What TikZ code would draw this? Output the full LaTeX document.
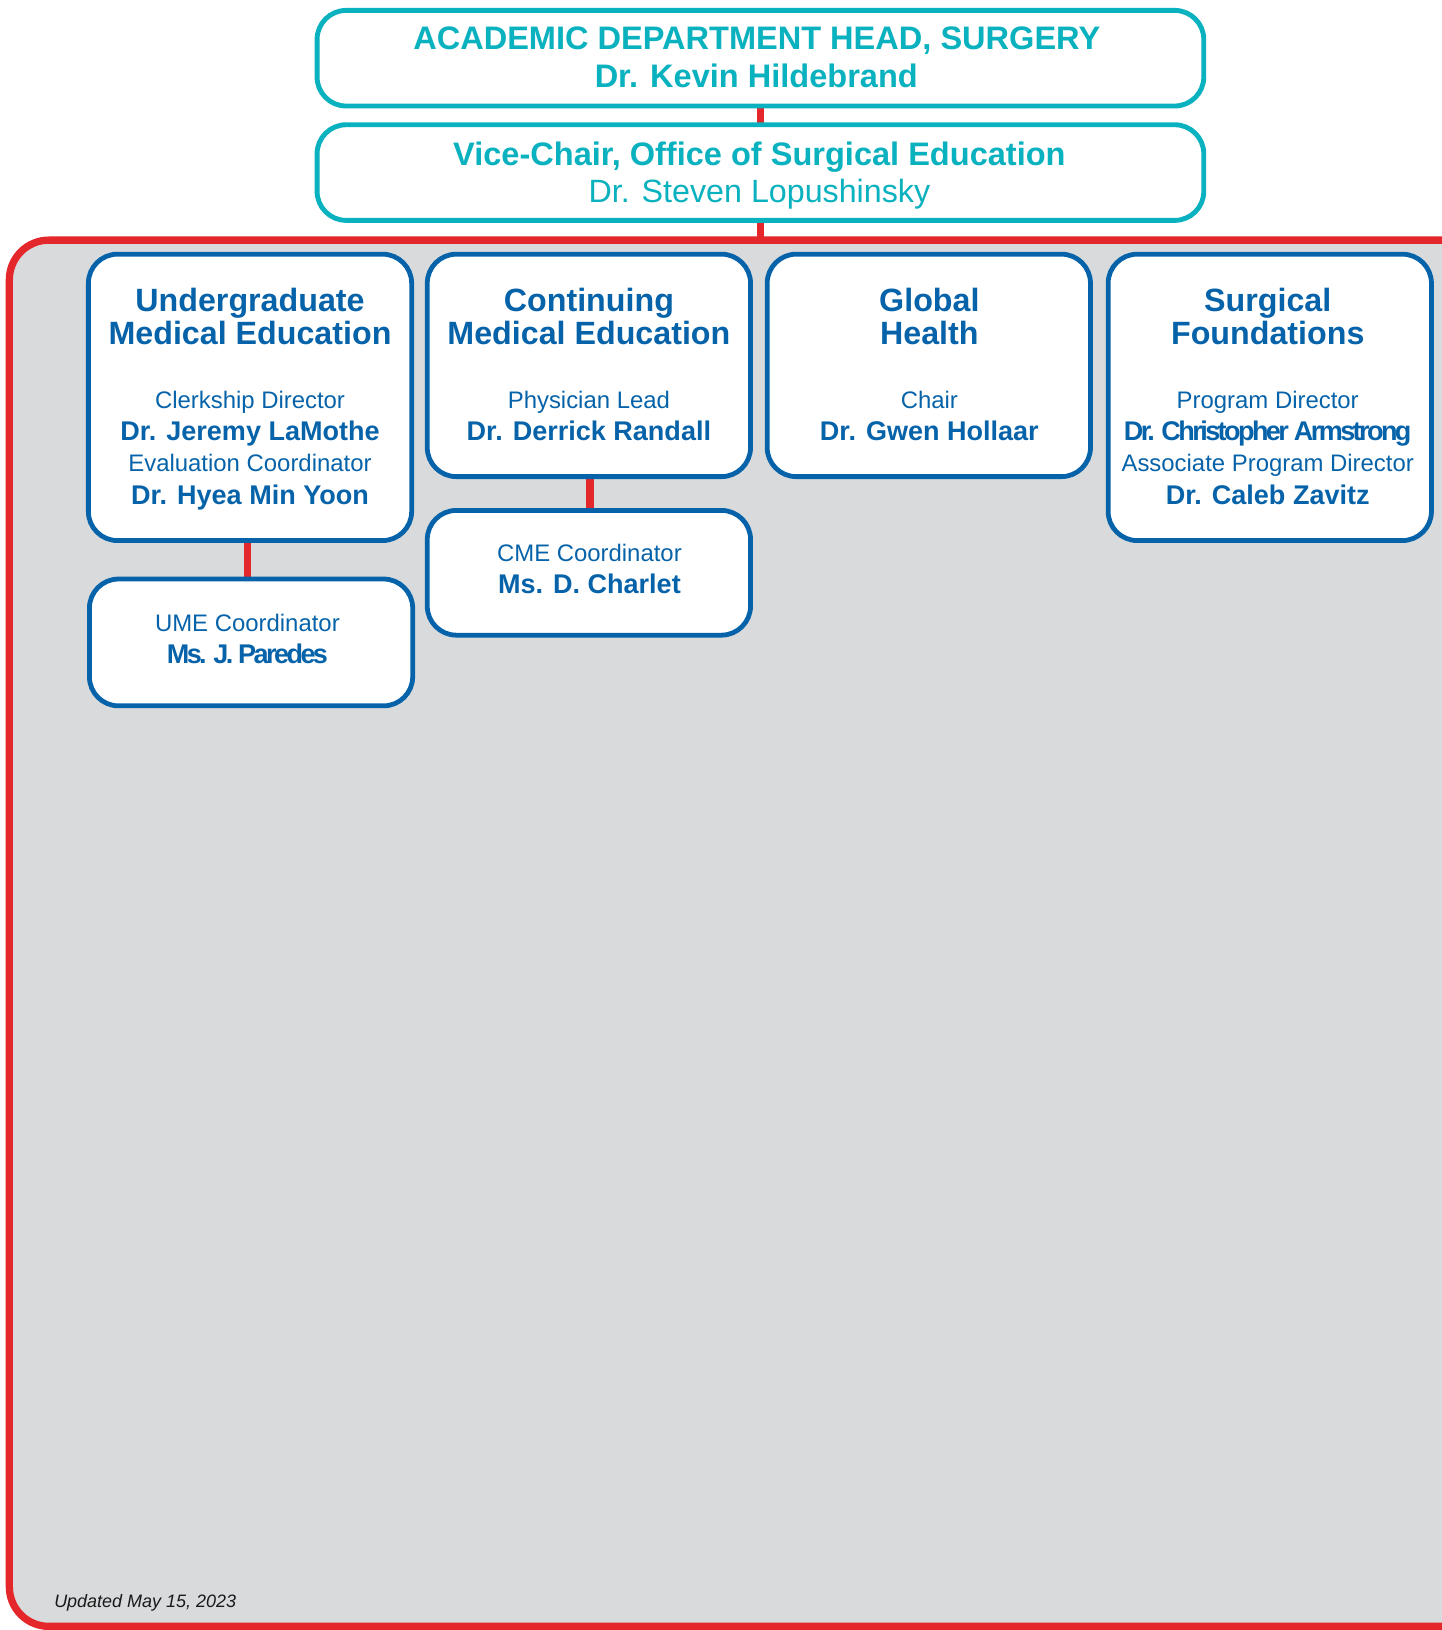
\documentclass[tikz,border=0pt]{standalone}
\usepackage{fontspec}
\usepackage{graphicx}
\setmainfont{Liberation Sans}
\definecolor{teal1}{HTML}{0AB1BE}
\definecolor{blue1}{HTML}{0763A9}
\definecolor{red1}{HTML}{E3272A}
\definecolor{gray1}{HTML}{D9DADC}
\pgfdeclarelayer{panel}
\pgfdeclarelayer{links}
\pgfsetlayers{panel,links,main}
\begin{document}
\begin{tikzpicture}[x=1pt,y=-1pt,
  headbox/.style={draw=teal1, line width=4.7pt, fill=white, rounded corners=28pt, rectangle, inner sep=0pt, outer sep=0pt, minimum width=853pt, minimum height=92pt},
  unitbox/.style={draw=blue1, line width=4.6pt, fill=white, rounded corners=28pt, rectangle, inner sep=0pt, outer sep=0pt, minimum width=311pt},
  link/.style={draw=red1, line width=7pt},
  htitle/.style={anchor=base, text=teal1, inner sep=0pt, font=\fontsize{31.3}{31}\selectfont\bfseries},
  hname/.style={anchor=base, text=teal1, inner sep=0pt, font=\fontsize{31}{31}\selectfont},
  ttl/.style={anchor=base, text=blue1, inner sep=0pt, font=\fontsize{31}{31}\selectfont\bfseries},
  role/.style={anchor=base, text=blue1, inner sep=0pt, font=\fontsize{23}{23}\selectfont},
  who/.style={anchor=base, text=blue1, inner sep=0pt, font=\fontsize{26}{26}\selectfont\bfseries},
  tightwho/.style={anchor=base, text=blue1, inner sep=0pt, font=\fontsize{26}{26}\selectfont\bfseries\addfontfeature{LetterSpace=-9.5}},
  note/.style={anchor=base west, text=black!90, inner sep=0pt, font=\fontsize{17.3}{17.3}\selectfont\itshape}
]
\useasboundingbox (0,0) rectangle (1387,1568);

% panel
\begin{pgfonlayer}{panel}
\node[draw=red1, line width=7pt, fill=gray1, rounded corners=38pt, rectangle, inner sep=0pt, outer sep=0pt,
      minimum width=1451pt, minimum height=1333.5pt, anchor=north west] (panel) at (9,231) {};
\end{pgfonlayer}

% head boxes
\node[headbox] (head) at (731.5,56) {};
\node[headbox] (vice) at (731.5,166) {};
\node[htitle] (headt) at (728,48) {ACADEMIC DEPARTMENT HEAD, SURGERY};
\node[htitle] (headn) at (727.5,84) {Dr. Kevin Hildebrand};
\node[htitle] (vicet) at (730.5,159) {Vice-Chair, Office of Surgical Education};
\node[hname] (vicen) at (730.5,195) {Dr. Steven Lopushinsky};

% unit boxes
\node[unitbox, minimum height=275.5pt] (ugme) at (240.5,382.25) {};
\node[unitbox, minimum height=122pt] (ume) at (241.5,618) {};
\node[unitbox, minimum height=214pt] (cme) at (566.5,351.5) {};
\node[unitbox, minimum height=120pt] (cmec) at (566.5,551) {};
\node[unitbox, minimum height=214pt] (gh) at (893.5,351.5) {};
\node[unitbox, minimum height=275.5pt] (sf) at (1221.5,382.25) {};

% UGME text
\node[ttl] (ugt1) at (240.5,300) {Undergraduate};
\node[ttl] (ugt2) at (240.5,331) {Medical Education};
\node[role] (ugr1) at (240.5,393) {Clerkship Director};
\node[who] (ugn1) at (240.5,423.5) {Dr. Jeremy LaMothe};
\node[role] (ugr2) at (240.5,454) {Evaluation Coordinator};
\node[who] (ugn2) at (240.5,485) {Dr. Hyea Min Yoon};

\node[role] (umer) at (238,607.5) {UME Coordinator};
\node[tightwho] (umen) at (238,638) {Ms. J. Paredes};

% CME text
\node[ttl] (cmt1) at (566.5,300) {Continuing};
\node[ttl] (cmt2) at (566.5,331) {Medical Education};
\node[role] (cmr1) at (566.5,393) {Physician Lead};
\node[who] (cmn1) at (566.5,423.5) {Dr. Derrick Randall};

\node[role] (cmcr) at (567,540.5) {CME Coordinator};
\node[who] (cmcn) at (567,571) {Ms. D. Charlet};

% Global health text
\node[ttl] (ght1) at (894,300) {Global};
\node[ttl] (ght2) at (894,331) {Health};
\node[role] (ghr1) at (894,393) {Chair};
\node[who] (ghn1) at (894,423.5) {Dr. Gwen Hollaar};

% Surgical foundations text
\node[ttl] (sft1) at (1219.5,300) {Surgical};
\node[ttl] (sft2) at (1219.5,331) {Foundations};
\node[role] (sfr1) at (1219.5,393) {Program Director};
\node[tightwho] (sfn1) at (1219.5,423.5) {Dr. Christopher Armstrong};
\node[role] (sfr2) at (1219.5,454) {Associate Program Director};
\node[who] (sfn2) at (1219.5,485) {Dr. Caleb Zavitz};

\node[note] (upd) at (52,1546) {Updated May 15, 2023};

% connectors
\begin{pgfonlayer}{links}
\draw[link] (head.south) -- (vice.north);
\draw[link] (vice.south) -- (vice.south |- panel.north);
\draw[link] ([xshift=-2.5pt]ugme.south) -- ([xshift=-2.5pt]ugme.south |- ume.north);
\draw[link] ([xshift=1pt]cme.south) -- ([xshift=1pt]cme.south |- cmec.north);
\end{pgfonlayer}
\end{tikzpicture}
\end{document}
